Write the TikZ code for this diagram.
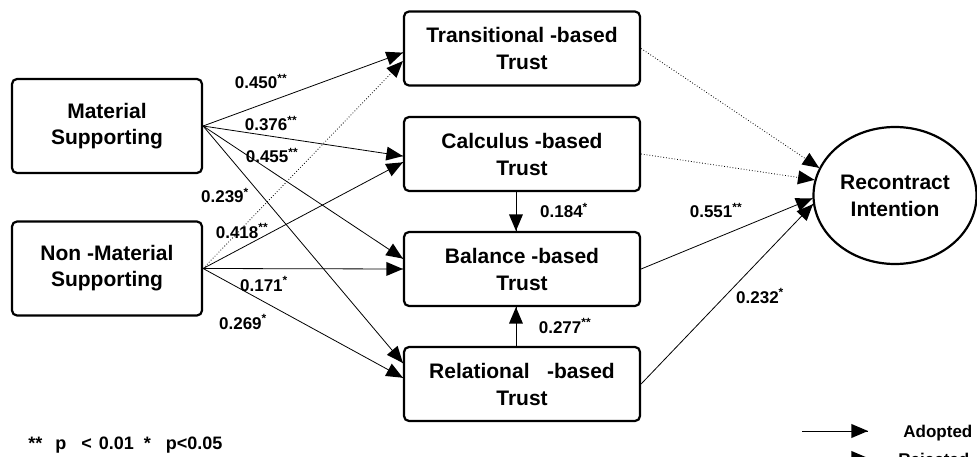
\documentclass[tikz,border=0pt]{standalone}
\usepackage{fontspec}
\setmainfont{Liberation Sans}
\usetikzlibrary{arrows}
\usetikzlibrary{decorations.markings}
\usetikzlibrary{shapes.geometric}
\tikzset{arr/.style = {decoration={markings,
                                  mark=at position 1 with {\arrow[scale=2.1]{triangle 45}}},
                      postaction={decorate}}}
\tikzset{trust/.style = {draw, line width = 2.2pt, rounded corners = 5pt, align = center,
                         minimum width = 236, minimum height = 74, inner sep = 0,
                         font = \fontsize{21}{27}\selectfont\bfseries}}
\tikzset{support/.style = {trust, minimum width = 190, minimum height = 94,
                           font = \fontsize{21}{26}\selectfont\bfseries}}
\tikzset{intent/.style = {draw, ellipse, line width = 2.2pt, align = center,
                          minimum width = 163, minimum height = 137, inner sep = 0,
                          font = \fontsize{21}{27}\selectfont\bfseries}}
\tikzset{coef/.style = {anchor = base, inner sep = 0,
                        font = \fontsize{17}{17}\selectfont\bfseries}}

\begin{document}
\begin{tikzpicture}[x = 1pt, y = -1pt, line width = 0.8pt]
    \clip (0, 0) rectangle (977, 457);
    \node [support] (ms) at (107, 126) {Material\\Supporting};
    \node [support] (nms) at (107, 268.5) {Non -Material\\Supporting};
    \node [trust] (tbt) at (522, 48.5) {Transitional -based\\Trust};
    \node [trust] (cbt) at (522, 154) {Calculus -based\\Trust};
    \node [trust] (bbt) at (522, 269) {Balance -based\\Trust};
    \node [trust] (rbt) at (522, 384) {Relational\ \ \ -based\\Trust};
    \node [intent] (ri) at (895, 195.5) {Recontract\\Intention};
    \draw [arr] (ms.east) -- (tbt.182);
    \draw [arr] (ms.east) -- (cbt.181);
    \draw [arr] (ms.east) -- (bbt.175);
    \draw [arr] (ms.east) -- (rbt.170);
    \draw [arr, dotted] (nms.east) -- (tbt.186);
    \draw [arr] (nms.east) -- (cbt.184);
    \draw [arr] (nms.east) -- (bbt.west);
    \draw [arr] (nms.east) -- (rbt.177);
    \draw [arr] (cbt.261) -- (bbt.99);
    \draw [arr] (rbt.99) -- (bbt.261);
    \draw [arr, dotted] (tbt.east) -- (ri.160);
    \draw [arr, dotted] (cbt.east) -- (ri.169);
    \draw [arr] (bbt.east) -- (ri.182);
    \draw [arr] (rbt.east) -- (ri.186);
    \node [coef] (k1) at (261, 89) {0.450\textsuperscript{**}};
    \node [coef] (k2) at (271, 131) {0.376\textsuperscript{**}};
    \node [coef] (k3) at (272, 163) {0.455\textsuperscript{**}};
    \node [coef] (k4) at (225, 203) {0.239\textsuperscript{*}};
    \node [coef] (k5) at (242, 238) {0.418\textsuperscript{**}};
    \node [coef] (k6) at (264, 291) {0.171\textsuperscript{*}};
    \node [coef] (k7) at (243, 329) {0.269\textsuperscript{*}};
    \node [coef] (k8) at (564, 218) {0.184\textsuperscript{*}};
    \node [coef] (k9) at (565, 333) {0.277\textsuperscript{**}};
    \node [coef] (k10) at (716, 218) {0.551\textsuperscript{**}};
    \node [coef] (k11) at (760, 303) {0.232\textsuperscript{*}};
    \node [coef, anchor = base west, font = \fontsize{18}{18}\selectfont\bfseries] (note) at (28, 449)
        {**\hspace{13pt}p\hspace{15pt}<\hspace{7pt}0.01\hspace{10pt}*\hspace{15pt}p<0.05};
    \coordinate (adS) at (802, 431);
    \coordinate (adE) at (868, 431);
    \draw [arr] (adS) -- (adE);
    \node [coef, anchor = base west] (ad) at (903, 437) {Adopted};
    \coordinate (rjS) at (802, 458);
    \coordinate (rjE) at (868, 458);
    \draw [arr, dotted] (rjS) -- (rjE);
    \node [coef, anchor = base west] (rj) at (898, 465) {Rejected};
  \end{tikzpicture}
\end{document}
